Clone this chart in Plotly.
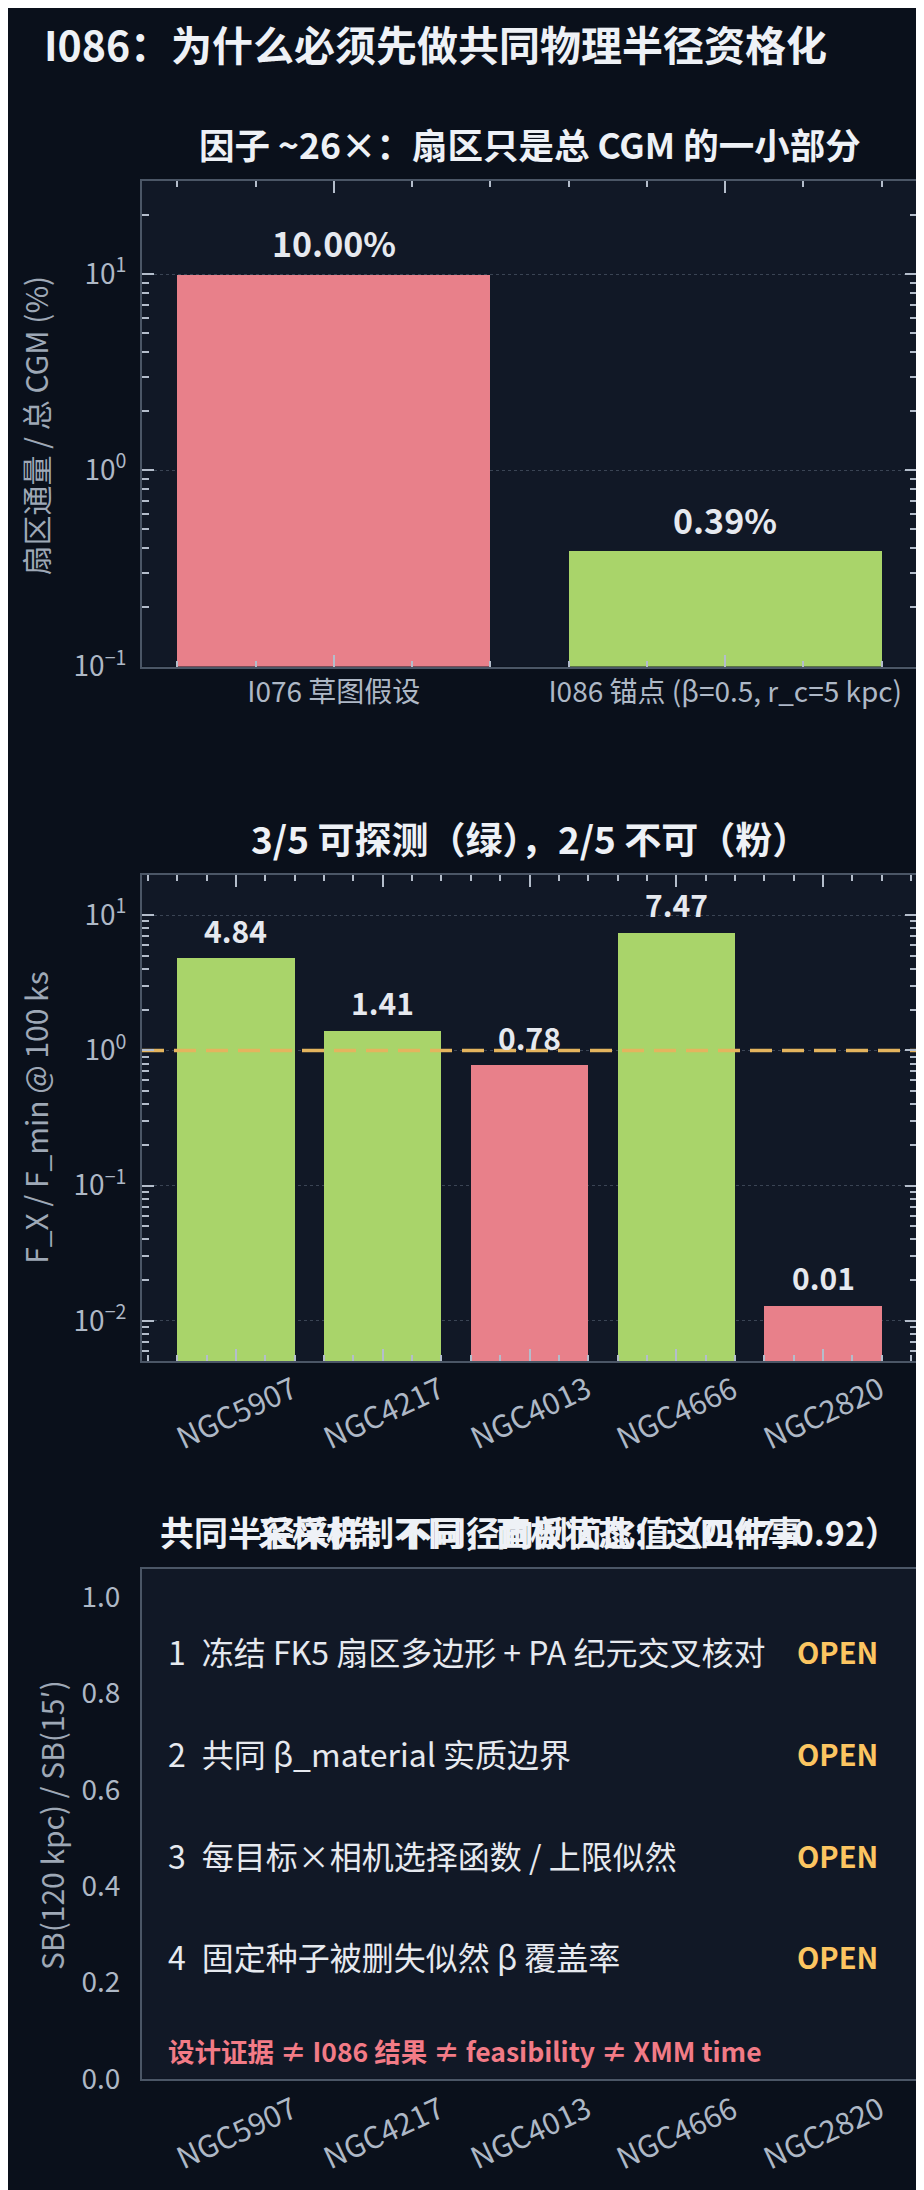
import numpy as np
import plotly.graph_objects as go

# ---------------- data ----------------
P1_CATEGORIES = ["I076 草图假设", "I086 锚点 (β=0.5, r_c=5 kpc)"]
P1_VALUES = [10.0, 0.39]            # sector flux / total CGM (%)
P1_IS_ANCHOR = [False, True]
P1_YTICKS = [0.1, 1.0, 10.0]
P1_YTICKTEXT = ["10<sup>−1</sup>", "10<sup>0</sup>", "10<sup>1</sup>"]
P1_YMIN, P1_YMAX = 0.1, 30.0

GALAXIES = ["NGC5907", "NGC4217", "NGC4013", "NGC4666", "NGC2820"]
FX_RATIO = [4.84, 1.41, 0.78, 7.47, 0.013]   # F_X / F_min @ 100 ks
DETECT_THRESHOLD = 1.0
P2_YTICKS = [0.01, 0.1, 1.0, 10.0]
P2_YTICKTEXT = ["10<sup>−2</sup>", "10<sup>−1</sup>", "10<sup>0</sup>", "10<sup>1</sup>"]
P2_YMIN, P2_YMAX = 0.005, 20.0

SB_RANGE = (0.47, 0.92)
P3_YTICKS = [0.0, 0.2, 0.4, 0.6, 0.8, 1.0]
P3_YMAX = 1.058
OPEN_ITEMS = [
    "冻结 FK5 扇区多边形 + PA 纪元交叉核对",
    "共同 β_material 实质边界",
    "每目标×相机选择函数 / 上限似然",
    "固定种子被删失似然 β 覆盖率",
]
OPEN_STATUS = ["OPEN", "OPEN", "OPEN", "OPEN"]
FOOTNOTE = "设计证据 ≠ I086 结果 ≠ feasibility ≠ XMM time"

MAIN_TITLE = "I086：为什么必须先做共同物理半径资格化"
P1_TITLE = "因子 ~26×：扇区只是总 CGM 的一小部分"
P2_TITLE = "3/5 可探测（绿），2/5 不可（粉）"
P3_TITLE_A = "共同半径采样：不同径向剖面比值（%.2f–%.2f）" % SB_RANGE
P3_TITLE_B = "采样机制不同，面板状态：这四件事"
P1_YLABEL = "扇区通量 / 总 CGM (%)"
P2_YLABEL = "F_X / F_min @ 100 ks"
P3_YLABEL = "SB(120 kpc) / SB(15′)"

# ---------------- style ----------------
W, H = 924, 2190
FONT = "Noto Sans CJK SC, Noto Sans, sans-serif"
PAPER_BG = "#0a101b"
PLOT_BG = "#111826"
SPINE = "#4b5666"
TICKC = "#b4bdcb"
TICKLABEL = "#aeb8c6"
AXTITLE = "#9ea8b6"
TITLEC = "#eef1f6"
TEXTC = "#e6e9ef"
PINK = "#e8808a"
GREEN = "#a9d46a"
GOLD = "#fcc561"
DASH = "#e4b45e"
REDTXT = "#f27b86"
GRID = "#3a4454"


def fx(px):
    return px / W


def fy(py):
    return 1 - py / H


XDOM = [fx(134), fx(909)]
P1_DOM = [fy(664), fy(174)]
P2_DOM = [fy(1364.7), fy(873.8)]
P3_DOM = [fy(2088), fy(1574)]


def xrange_for(n):
    lo, hi = -0.4, n - 1 + 0.4
    m = 0.05 * (hi - lo)
    return [lo - m, hi + m]


def log_minor(vmin, vmax):
    out = []
    for e in range(int(np.floor(np.log10(vmin))), int(np.ceil(np.log10(vmax))) + 1):
        for m in range(2, 10):
            v = m * 10.0 ** e
            if vmin <= v <= vmax:
                out.append(v)
    return out


fig = go.Figure()

p1_colors = [GREEN if a else PINK for a in P1_IS_ANCHOR]
fig.add_trace(go.Bar(x=list(range(len(P1_VALUES))), y=P1_VALUES, width=0.8,
                     marker=dict(color=p1_colors, line=dict(width=0)),
                     xaxis="x", yaxis="y", hoverinfo="skip", showlegend=False))

p2_colors = [GREEN if v >= DETECT_THRESHOLD else PINK for v in FX_RATIO]
fig.add_trace(go.Bar(x=list(range(len(FX_RATIO))), y=FX_RATIO, width=0.8,
                     marker=dict(color=p2_colors, line=dict(width=0)),
                     xaxis="x2", yaxis="y2", hoverinfo="skip", showlegend=False))

# detection threshold line spanning the full x range of panel 2
x2r = xrange_for(len(GALAXIES))
fig.add_trace(go.Scatter(x=x2r, y=[DETECT_THRESHOLD, DETECT_THRESHOLD], mode="lines",
                         line=dict(color=DASH, width=3.5, dash="22px,10px"),
                         xaxis="x2", yaxis="y2", hoverinfo="skip", showlegend=False,
                         cliponaxis=False))

fig.add_trace(go.Scatter(x=[], y=[], xaxis="x3", yaxis="y3", showlegend=False))

common_x = dict(showline=True, linecolor=SPINE, linewidth=2, mirror="allticks",
                showgrid=False, zeroline=False, ticks="inside", ticklen=12,
                tickwidth=2, tickcolor=TICKC, layer="above traces",
                tickfont=dict(family=FONT, size=28, color=TICKLABEL),
                minor=dict(ticks="inside", ticklen=6, tickwidth=1.5, tickcolor=TICKC,
                           tickmode="linear", tick0=0, dtick=0.2, showgrid=False))


def ylog(vmin, vmax, tickvals, ticktext):
    return dict(type="log", range=[np.log10(vmin), np.log10(vmax)],
                tickmode="array", tickvals=tickvals, ticktext=ticktext,
                showline=True, linecolor=SPINE, linewidth=2,
                mirror="allticks", showgrid=True, gridcolor=GRID, griddash="dot",
                gridwidth=1, zeroline=False, ticks="inside", ticklen=12,
                tickwidth=2, tickcolor=TICKC, ticklabelstandoff=8,
                layer="above traces",
                tickfont=dict(family=FONT, size=28, color=TICKLABEL),
                minor=dict(ticks="inside", ticklen=7, tickwidth=1.5, tickcolor=TICKC,
                           tickmode="array", tickvals=log_minor(vmin, vmax),
                           showgrid=False))


fig.update_layout(
    width=W, height=H,
    margin=dict(l=0, r=0, t=0, b=0),
    paper_bgcolor=PAPER_BG, plot_bgcolor=PLOT_BG,
    font=dict(family=FONT, color=TEXTC),
    bargap=0,
    xaxis=dict(domain=XDOM, anchor="y", range=xrange_for(len(P1_VALUES)),
               tickmode="array", tickvals=list(range(len(P1_CATEGORIES))),
               ticktext=P1_CATEGORIES, **common_x),
    yaxis=dict(domain=P1_DOM, anchor="x",
               **ylog(P1_YMIN, P1_YMAX, P1_YTICKS, P1_YTICKTEXT)),
    xaxis2=dict(domain=XDOM, anchor="y2", range=x2r,
                tickmode="array", tickvals=list(range(len(GALAXIES))),
                showticklabels=False, **common_x),
    yaxis2=dict(domain=P2_DOM, anchor="x2",
                **ylog(P2_YMIN, P2_YMAX, P2_YTICKS, P2_YTICKTEXT)),
    xaxis3=dict(domain=XDOM, anchor="y3", range=xrange_for(len(GALAXIES)),
                showline=True, linecolor=SPINE, linewidth=2, mirror=True,
                showgrid=False, zeroline=False, ticks="", showticklabels=False),
    yaxis3=dict(domain=P3_DOM, anchor="x3", range=[0, P3_YMAX],
                showline=True, linecolor=SPINE, linewidth=2, mirror=True,
                showgrid=False, zeroline=False, ticks="",
                tickmode="array", tickvals=P3_YTICKS,
                ticktext=["%.1f" % v for v in P3_YTICKS], ticklabelstandoff=14,
                tickfont=dict(family=FONT, size=28, color=TICKLABEL)),
)

ann = []
# main title
ann.append(dict(text="<b>%s</b>" % MAIN_TITLE, x=fx(34), y=fy(35), xref="paper", yref="paper",
                xanchor="left", yanchor="middle", showarrow=False,
                font=dict(family=FONT, size=41, color=TITLEC)))
# panel titles
cx = (XDOM[0] + XDOM[1]) / 2
for t, py, sz in [(P1_TITLE, 137, 35.5), (P2_TITLE, 837, 37),
                  (P3_TITLE_A, 1536, 34), (P3_TITLE_B, 1536, 34)]:
    ann.append(dict(text="<b>%s</b>" % t, x=cx, y=fy(py), xref="paper", yref="paper",
                    xanchor="center", yanchor="middle", showarrow=False,
                    font=dict(family=FONT, size=sz, color=TITLEC)))
# y-axis titles
for t, px_, py in [(P1_YLABEL, 27, 421), (P2_YLABEL, 27, 1119), (P3_YLABEL, 43, 1832)]:
    ann.append(dict(text=t, x=fx(px_), y=fy(py), xref="paper", yref="paper",
                    xanchor="center", yanchor="middle", textangle=-90, showarrow=False,
                    font=dict(family=FONT, size=30, color=AXTITLE)))
# bar value labels
for i, v in enumerate(P1_VALUES):
    ann.append(dict(text="<b>%.2f%%</b>" % v, x=i, y=np.log10(v), xref="x", yref="y",
                    xanchor="center", yanchor="bottom", yshift=5, showarrow=False,
                    font=dict(family=FONT, size=34, color=TEXTC)))
for i, v in enumerate(FX_RATIO):
    ann.append(dict(text="<b>%.2f</b>" % v, x=i, y=np.log10(v), xref="x2", yref="y2",
                    xanchor="center", yanchor="bottom", yshift=4, showarrow=False,
                    font=dict(family=FONT, size=30, color=TEXTC)))
# rotated galaxy labels (panels 2 and 3)
for i, g in enumerate(GALAXIES):
    for xr, py in [("x2", 1415), ("x3", 2141)]:
        ann.append(dict(text=g, x=i, y=fy(py), xref=xr, yref="paper",
                        xanchor="center", yanchor="middle", textangle=-25, showarrow=False,
                        font=dict(family=FONT, size=30, color=TICKLABEL)))
# open items
for i, (item, st) in enumerate(zip(OPEN_ITEMS, OPEN_STATUS)):
    yy = 0.84 - 0.2 * i
    ann.append(dict(text="%d\u2002%s" % (i + 1, item), x=0.031, y=yy,
                    xref="x3 domain", yref="y3 domain", xanchor="left", yanchor="middle",
                    showarrow=False, font=dict(family=FONT, size=32, color=TEXTC)))
    ann.append(dict(text="<b>%s</b>" % st, x=0.952, y=yy,
                    xref="x3 domain", yref="y3 domain", xanchor="right", yanchor="middle",
                    showarrow=False, font=dict(family=FONT, size=29, color=GOLD)))
ann.append(dict(text="<b>%s</b>" % FOOTNOTE, x=0.031, y=0.056,
                xref="x3 domain", yref="y3 domain", xanchor="left", yanchor="middle",
                showarrow=False, font=dict(family=FONT, size=26.5, color=REDTXT)))

fig.update_layout(annotations=ann)

fig.write_html("out.html")
